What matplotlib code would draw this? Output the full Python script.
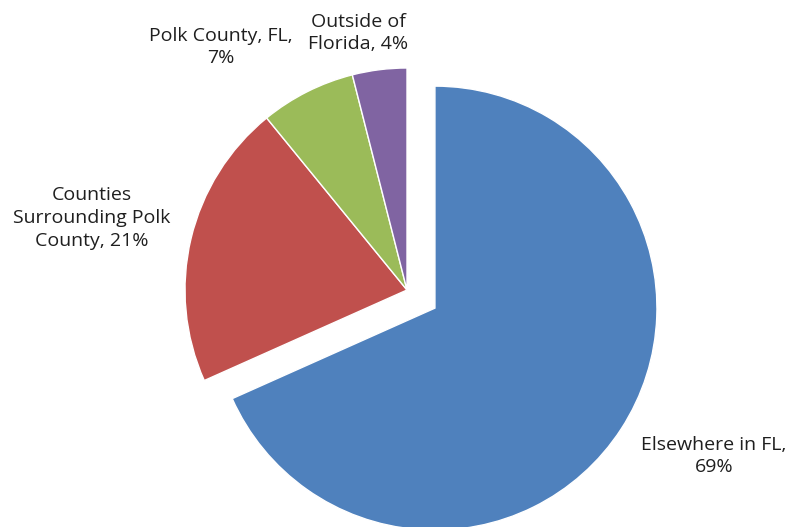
import numpy as np
import matplotlib.pyplot as plt

# shares of the pie (percent, as printed on the chart)
categories = ['Elsewhere in FL', 'Counties Surrounding Polk County',
              'Polk County, FL', 'Outside of Florida']
shares = [69, 21, 7, 4]
label_text = ['Elsewhere in FL,\n69%', 'Counties\nSurrounding Polk\nCounty, 21%',
              'Polk County, FL,\n7%', 'Outside of\nFlorida, 4%']
colors = ['#4F81BD', '#C0504D', '#9BBB59', '#8064A2']
explode = [0.15, 0, 0, 0]

W, H = 789, 527
R_PX = 222.0          # pie radius in pixels
CX, CY = 407.0, 290.0  # pie centre in pixels (from top-left)

def px2data(px, py):
    return (px - CX) / R_PX, (CY - py) / R_PX

fig = plt.figure(figsize=(W / 100, H / 100), dpi=100)
ax = fig.add_axes([0, 0, 1, 1])
ax.pie(shares, colors=colors, explode=explode, startangle=90, counterclock=False,
       radius=1.0, wedgeprops=dict(edgecolor='white', linewidth=1.0))

x0, y1 = px2data(0, 0)
x1, y0 = px2data(W, H)
ax.set_xlim(x0, x1)
ax.set_ylim(y0, y1)
ax.set_aspect('auto')
ax.axis('off')

# label centres, in pixels
label_pos = [(714, 456), (92, 218), (221, 47), (358, 33)]
for txt, (px, py) in zip(label_text, label_pos):
    x, y = px2data(px, py)
    ax.text(x, y, txt, ha='center', va='center', fontsize=14, color='#1f1f1f',
            family='Open Sans', linespacing=1.35)

fig.savefig('out.png', dpi=100)
